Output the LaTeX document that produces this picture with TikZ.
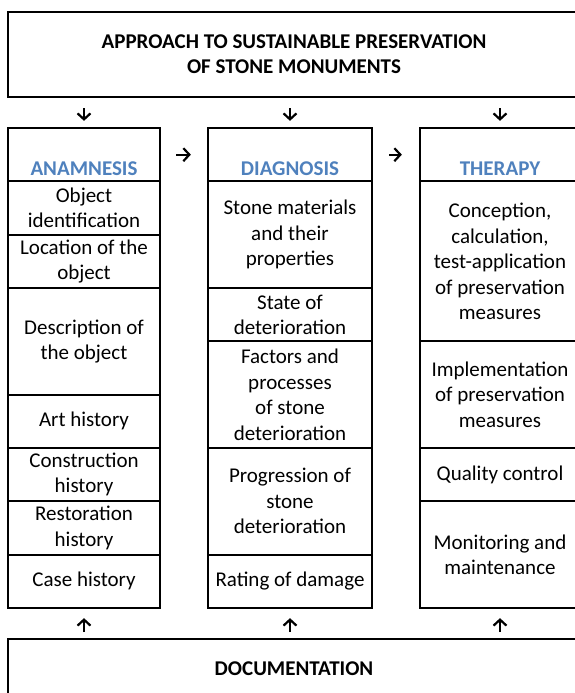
\documentclass[tikz,border=0pt]{standalone}
\usepackage{fontspec}
\setmainfont{Carlito}
\usetikzlibrary{arrows.meta}
\definecolor{headblue}{HTML}{4F81BD}
\tikzset{
  cell/.style={draw, line width=2.3pt, inner sep=0pt, align=center,
    font=\fontsize{21}{25.5}\selectfont},
  bigbox/.style={draw, line width=2.3pt, inner sep=0pt,
    font=\fontsize{21}{25}\selectfont\bfseries},
  headtext/.style={anchor=base, inner sep=0pt, text=headblue,
    font=\fontsize{21}{25.5}\selectfont\bfseries},
  arr/.style={line width=2.2pt, -{Straight Barb[length=6pt,width=13pt]}},
}
\begin{document}
\begin{tikzpicture}[x=1pt,y=1pt]
\useasboundingbox (0,0) rectangle (575,-693);
\clip (0,0) rectangle (575,-693);

% top and bottom boxes
\node[bigbox, align=center, minimum width=572pt, minimum height=85.6pt] (top) at (294,-54.5)
  {APPROACH TO SUSTAINABLE PRESERVATION\\OF STONE MONUMENTS};
\node[bigbox, minimum width=572pt, minimum height=58.4pt] (doc) at (294,-668.5) {DOCUMENTATION};

% ANAMNESIS column (x 8..160)
\node[cell, minimum width=152pt, minimum height=53.33pt] (anaH) at (84,-154.67) {};
\node[headtext] (anaT) at (84,-175) {ANAMNESIS};
\node[cell, minimum width=152pt, minimum height=53.33pt] (obj) at (84,-208) {Object\\identification};
\node[cell, minimum width=152pt, minimum height=53.33pt] (loc) at (84,-261.33) {Location of the\\object};
\node[cell, minimum width=152pt, minimum height=106.67pt] (desc) at (84,-341.33) {Description of\\the object};
\node[cell, minimum width=152pt, minimum height=53.33pt] (art) at (84,-421.33) {Art history};
\node[cell, minimum width=152pt, minimum height=53.33pt] (con) at (84,-474.67) {Construction\\history};
\node[cell, minimum width=152pt, minimum height=53.33pt] (res) at (84,-528) {Restoration\\history};
\node[cell, minimum width=152pt, minimum height=53.33pt] (case) at (84,-581.33) {Case history};

% DIAGNOSIS column (x 208..372)
\node[cell, minimum width=164pt, minimum height=53.33pt] (diaH) at (290,-154.67) {};
\node[headtext] (diaT) at (290,-175) {DIAGNOSIS};
\node[cell, minimum width=164pt, minimum height=106.67pt] (stone) at (290,-234.67) {Stone materials\\and their\\properties};
\node[cell, minimum width=164pt, minimum height=53.33pt] (state) at (290,-314.67) {State of\\deterioration};
\node[cell, minimum width=164pt, minimum height=106.67pt] (fact) at (290,-394.67) {Factors and\\processes\\of stone\\deterioration};
\node[cell, minimum width=164pt, minimum height=106.67pt] (prog) at (290,-501.33) {Progression of\\stone\\deterioration};
\node[cell, minimum width=164pt, minimum height=53.33pt] (rate) at (290,-581.33) {Rating of damage};

% THERAPY column (x 420..580)
\node[cell, minimum width=160pt, minimum height=53.33pt] (theH) at (500,-154.67) {};
\node[headtext] (theT) at (500,-175) {THERAPY};
\node[cell, minimum width=160pt, minimum height=160pt] (conc) at (500,-261.33) {Conception,\\calculation,\\test-application\\of preservation\\measures};
\node[cell, minimum width=160pt, minimum height=106.67pt] (impl) at (500,-394.67) {Implementation\\of preservation\\measures};
\node[cell, minimum width=160pt, minimum height=53.33pt] (qual) at (500,-474.67) {Quality control};
\node[cell, minimum width=160pt, minimum height=106.67pt] (mon) at (500,-554.67) {Monitoring and\\maintenance};

% arrows from top box
\draw[arr, shorten <=10pt, shorten >=6pt] (top.south -| anaH.north) -- (anaH.north);
\draw[arr, shorten <=10pt, shorten >=6pt] (top.south -| diaH.north) -- (diaH.north);
\draw[arr, shorten <=10pt, shorten >=6pt] (top.south -| theH.north) -- (theH.north);

% arrows between columns
\draw[arr, shorten <=15pt, shorten >=16pt] (anaH.east) -- (diaH.west);
\draw[arr, shorten <=16pt, shorten >=17pt] (diaH.east) -- (theH.west);

% arrows from documentation
\draw[arr, shorten <=6pt, shorten >=9pt] (doc.north -| case.south) -- (case.south);
\draw[arr, shorten <=6pt, shorten >=9pt] (doc.north -| rate.south) -- (rate.south);
\draw[arr, shorten <=6pt, shorten >=9pt] (doc.north -| mon.south) -- (mon.south);
\end{tikzpicture}
\end{document}
